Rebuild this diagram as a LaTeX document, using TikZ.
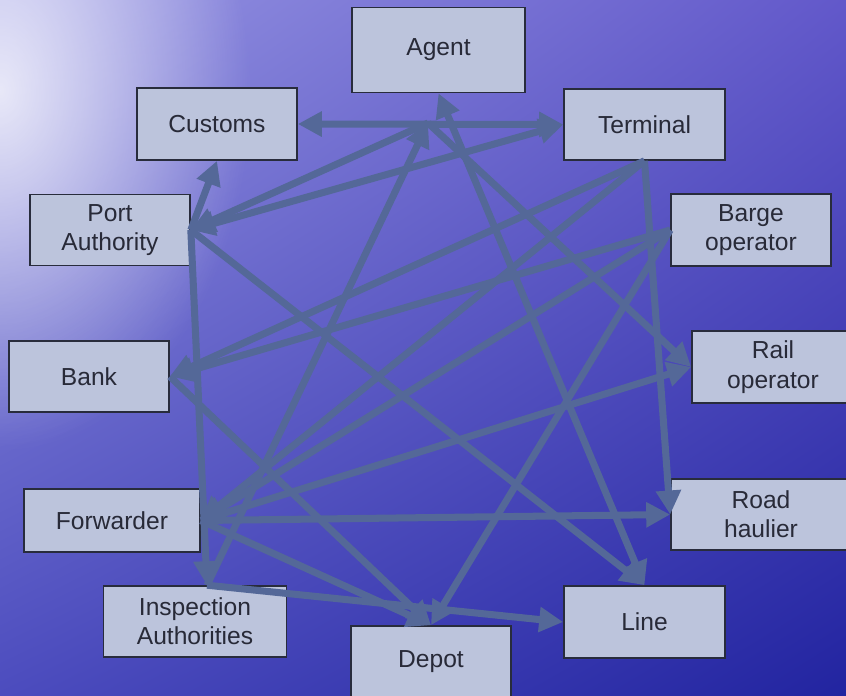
\documentclass[tikz,border=0pt]{standalone}
\usepackage{fontspec}
\setmainfont{Liberation Sans}
\usetikzlibrary{arrows.meta, calc, fadings, shadings}

\definecolor{connc}{RGB}{84,104,152}
\definecolor{boxfill}{RGB}{188,196,220}
\definecolor{boxline}{RGB}{40,44,60}
\definecolor{boxtext}{RGB}{40,42,56}
\definecolor{seaUL}{RGB}{150,150,226}
\definecolor{seaUR}{RGB}{98,88,202}
\definecolor{seaLL}{RGB}{76,76,190}
\definecolor{seaLR}{RGB}{34,36,160}

\tikzfading[name=glowfade, inner color=transparent!0, outer color=transparent!100]

\begin{document}
\begin{tikzpicture}[x=0.03cm, y=-0.03cm,
    box/.style={rectangle, draw=boxline, fill=boxfill, line width=1.4pt,
      text=boxtext, align=center, inner sep=0pt,
      minimum width=4.8cm, minimum height=2.16cm,
      font=\fontsize{21}{25}\selectfont},
    link/.style={draw=connc, line width=6pt,
      -{Triangle[length=0.72cm, width=0.72cm]}},
    twolink/.style={draw=connc, line width=6pt,
      {Triangle[length=0.72cm, width=0.72cm]}-{Triangle[length=0.72cm, width=0.72cm]}}]

  % background
  \useasboundingbox (0,0) rectangle (846,695);
  \clip (0,0) rectangle (846,695);
  \shade[upper left=seaUL, upper right=seaUR, lower left=seaLL, lower right=seaLR]
    (0,0) rectangle (846,695);
  \fill[white, opacity=0.8, path fading=glowfade] (0,90) ellipse[x radius=250, y radius=360];

  % parties
  \node (agent)[box, minimum width=5.19cm, minimum height=2.55cm] at (438.5,50) {Agent};
  \node (customs)[box] at (217,124) {Customs};
  \node (terminal)[box, minimum width=4.83cm, minimum height=2.13cm] at (644.5,124.5) {Terminal};
  \node (port)[box, minimum height=2.13cm] at (110,230) {Port\\Authority};
  \node (barge)[box] at (751,230) {Barge\\operator};
  \node (bank)[box, minimum height=2.13cm] at (89,376.5) {Bank};
  \node (rail)[box, minimum width=4.86cm] at (773,367) {Rail\\operator};
  \node (forwarder)[box, minimum width=5.28cm, minimum height=1.89cm] at (112,520.5) {Forwarder};
  \node (road)[box, minimum width=5.4cm, minimum height=2.13cm] at (761,514.5) {Road\\haulier};
  \node (insp)[box, minimum width=5.49cm, minimum height=2.13cm] at (195,621.5) {Inspection\\Authorities};
  \node (line)[box, minimum width=4.83cm] at (644.5,622) {Line};
  \node (depot)[box] at (431,662) {Depot};

  \coordinate (hub) at (428,123);
  \coordinate (insptop) at ($(insp.north)+(12,0)$);

  % flows
  \draw[twolink] (customs.east) -- (terminal.west);
  \draw[twolink] (port.east) -- (terminal.west);
  \draw[link] (hub) -- (port.east);
  \draw[link] (port.east) -- (customs.south);
  \draw[link] (insptop) -- (hub);
  \draw[twolink] (line.north) -- (agent.south);
  \draw[link] (hub) -- (rail.west);
  \draw[link] (forwarder.east) -- (rail.west);
  \draw[link] (terminal.south) -- (road.west);
  \draw[link] (forwarder.east) -- (road.west);
  \draw[link] (terminal.south) -- (bank.east);
  \draw[link] (terminal.south) -- (forwarder.east);
  \draw[link] (barge.west) -- (bank.east);
  \draw[link] (barge.west) -- (forwarder.east);
  \draw[link] (barge.west) -- (depot.north);
  \draw[link] (port.east) -- (line.north);
  \draw[link] (port.east) -- (insptop);
  \draw[link] (bank.east) -- (depot.north);
  \draw[link] (forwarder.east) -- (depot.north);
  \draw[link] (insptop) -- (line.west);
\end{tikzpicture}
\end{document}
